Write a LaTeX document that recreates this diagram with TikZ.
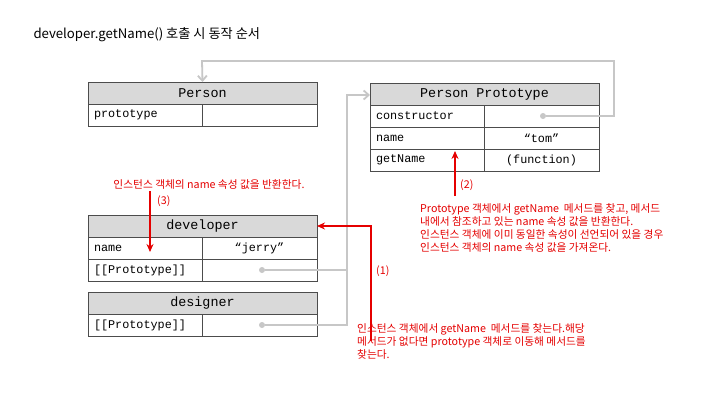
\documentclass[tikz,border=0pt]{standalone}
\usepackage{fontspec}
\setmonofont{Liberation Mono}
\newfontfamily\kr{Noto Sans CJK KR}
\usetikzlibrary{arrows.meta}
\begin{document}
\begin{tikzpicture}[x=1pt,y=-1pt,
  cellbox/.style={draw=black!70,line width=0.8pt,minimum height=22pt,inner sep=0pt,outer sep=0pt},
  headbox/.style={cellbox,fill=black!15,minimum width=229pt,font=\ttfamily\fontsize{13.4}{15}\selectfont},
  keybox/.style={cellbox,minimum width=114pt,anchor=north west,font=\ttfamily\fontsize{11.8}{13}\selectfont,text width=102pt,align=left},
  valbox/.style={cellbox,minimum width=115pt,anchor=north west,font=\ttfamily\fontsize{11.8}{13}\selectfont},
  gline/.style={draw=black!22,line width=1.8pt},
  garrow/.style={gline,-{Straight Barb[length=5pt,width=9pt]}},
  gdot/.style={circle,fill=black!22,inner sep=0pt,minimum size=6pt},
  rline/.style={draw=red!90!black,line width=1.6pt},
  rarrow/.style={rline,-{Stealth[length=8pt,width=7pt]}},
  rtext/.style={text=red!90!black,font=\kr\fontsize{10.7}{13}\selectfont,align=left,inner sep=0pt}]
\useasboundingbox (0,0) rectangle (720,405);
\fill[white] (0,0) rectangle (720,405);

\node[anchor=west,font=\kr\fontsize{13.2}{15}\selectfont] (title) at (30,35) {developer.getName() 호출 시 동작 순서};

% Person
\node[headbox,anchor=north west] (ph) at (88,82) {Person};
\node[keybox] (pk1) at (88,104) {prototype};
\node[valbox] (pv1) at (202,104) {};

% Person Prototype
\node[headbox,anchor=north west] (pph) at (370,83) {Person Prototype};
\node[keybox] (ppk1) at (370,105) {constructor};
\node[valbox] (ppv1) at (484,105) {};
\node[keybox] (ppk2) at (370,127) {name};
\node[valbox] (ppv2) at (484,127) {“tom”};
\node[keybox] (ppk3) at (370,149) {getName};
\node[valbox] (ppv3) at (484,149) {(function)};

% developer
\node[headbox,anchor=north west] (dh) at (88,215) {developer};
\node[keybox] (dk1) at (88,237) {name};
\node[valbox] (dv1) at (202,237) {“jerry”};
\node[keybox] (dk2) at (88,259) {[[Prototype]]};
\node[valbox] (dv2) at (202,259) {};

% designer
\node[headbox,anchor=north west] (sh) at (88,292) {designer};
\node[keybox] (sk1) at (88,314) {[[Prototype]]};
\node[valbox] (sv1) at (202,314) {};

% gray connectors
\node[gdot] (d1) at (543,116) {};
\node[gdot] (d2) at (262,270) {};
\node[gdot] (d3) at (262,325) {};
\coordinate (c1) at (614,116);
\coordinate (c2) at (614,61);
\coordinate (c3) at (202,61);
\draw[garrow] (d1) -- (c1) -- (c2) -- (c3) -- (ph.north);
\coordinate (j1) at (347,270);
\coordinate (j2) at (347,95);
\coordinate (j3) at (347,325);
\draw[gline] (d3) -- (j3) -- (j1);
\draw[garrow] (d2) -- (j1) -- (j2) -- (pph.west |- j2);

% red arrows
\coordinate (r1s) at (371,341);
\coordinate (r1c) at (371,226);
\draw[rarrow] (r1s) -- (r1c) -- (dh.east |- r1c);
\node[rtext,anchor=west] (l1) at (376,271) {(1)};
\node[rtext,anchor=north west] (t1) at (357,323) {인스턴스 객체에서 getName~~메서드를 찾는다.해당\\메서드가 없다면 prototype 객체로 이동해 메서드를\\찾는다.};

\coordinate (r2s) at (455,196);
\coordinate (r2e) at (455,151);
\draw[rarrow] (r2s) -- (r2e);
\node[rtext,anchor=west] (l2) at (460,185) {(2)};
\node[rtext,anchor=north west] (t2) at (420,203) {Prototype 객체에서 getName~~메서드를 찾고, 메서드\\내에서 참조하고 있는 name 속성 값을 반환한다.\\인스턴스 객체에 이미 동일한 속성이 선언되어 있을 경우\\인스턴스 객체의 name 속성 값을 가져온다.};

\coordinate (r3s) at (150,191);
\coordinate (r3e) at (150,252);
\draw[rarrow] (r3s) -- (r3e);
\node[rtext,anchor=west] (l3) at (157,201) {(3)};
\node[rtext,anchor=center] (t3) at (209,184) {인스턴스 객체의 name 속성 값을 반환한다.};
\end{tikzpicture}
\end{document}
